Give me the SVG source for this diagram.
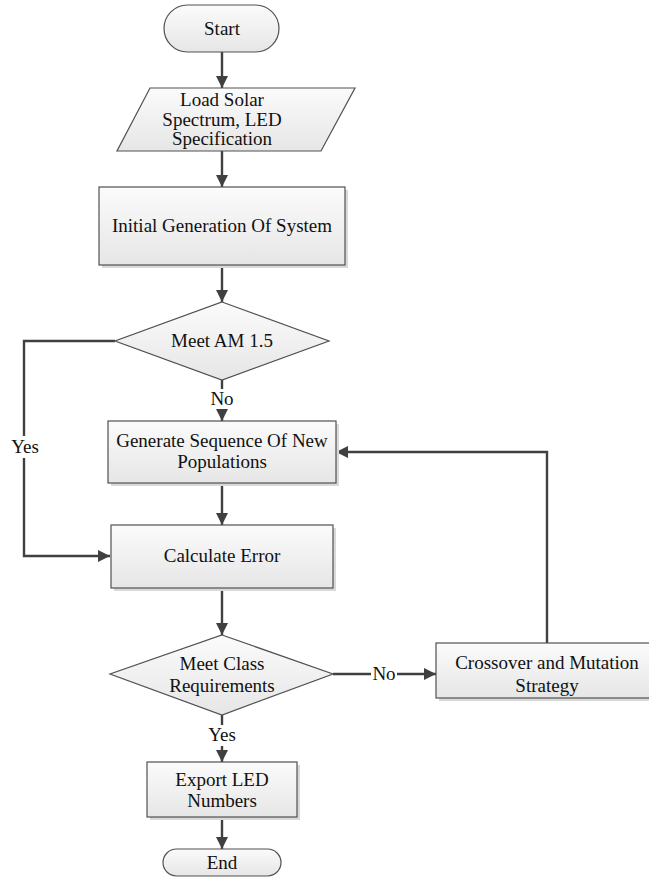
<svg xmlns="http://www.w3.org/2000/svg" width="649" height="886" viewBox="0 0 649 886">
<defs>
<linearGradient id="g" x1="0" y1="0" x2="0" y2="1">
<stop offset="0" stop-color="#fbfbfb"/>
<stop offset="1" stop-color="#e6e6e6"/>
</linearGradient>
<marker id="ah" markerUnits="userSpaceOnUse" markerWidth="13" markerHeight="13" refX="12" refY="6.5" orient="auto">
<path d="M0,0.5 L12,6.5 L0,12.5 z" fill="#404040"/>
</marker>
</defs>
<style>
.s{fill:url(#g);stroke:#505050;stroke-width:1.2}
.sh{fill:#d9d9d9;stroke:none}
.t{font-family:"Liberation Serif","Times New Roman",serif;font-size:19px;fill:#111;text-anchor:middle}
.c{fill:none;stroke:#404040;stroke-width:2.4}
.lb{fill:#fff;stroke:none}
</style>
<rect width="649" height="886" fill="#fff"/>
<g id="connectors">
<line class="c" x1="222" y1="52" x2="222" y2="88" marker-end="url(#ah)"/>
<line class="c" x1="222" y1="151" x2="222" y2="187" marker-end="url(#ah)"/>
<line class="c" x1="222" y1="265" x2="222" y2="302" marker-end="url(#ah)"/>
<line class="c" x1="222" y1="380" x2="222" y2="421" marker-end="url(#ah)"/>
<line class="c" x1="222" y1="483" x2="222" y2="525" marker-end="url(#ah)"/>
<polyline class="c" points="115,341 24,341 24,556 110,556" marker-end="url(#ah)"/>
<line class="c" x1="222" y1="588" x2="222" y2="635" marker-end="url(#ah)"/>
<line class="c" x1="333" y1="674" x2="436" y2="674" marker-end="url(#ah)"/>
<polyline class="c" points="547,643 547,452 336,452" marker-end="url(#ah)"/>
<line class="c" x1="222" y1="715" x2="222" y2="762" marker-end="url(#ah)"/>
<line class="c" x1="222" y1="817" x2="222" y2="849" marker-end="url(#ah)"/>
<rect class="lb" x="209" y="389" width="26" height="20"/>
<text class="t" x="222" y="405">No</text>
<rect class="lb" x="9" y="436" width="32" height="22"/>
<text class="t" x="25" y="453">Yes</text>
<rect class="lb" x="371" y="664" width="26" height="20"/>
<text class="t" x="384" y="680">No</text>
<rect class="lb" x="206" y="725" width="32" height="21"/>
<text class="t" x="222" y="741">Yes</text>
</g>
<g id="start">
<rect class="s" x="164" y="5" width="115" height="47" rx="23.5"/>
<text class="t" x="222" y="35">Start</text>
</g>
<g id="load">
<polygon class="s" points="150,88 355,88 321,151 117,151"/>
<text class="t" x="222" y="106">Load Solar</text>
<text class="t" x="222" y="126">Spectrum, LED</text>
<text class="t" x="222" y="145">Specification</text>
</g>
<g id="init">
<rect class="sh" x="102" y="190" width="246" height="78"/>
<rect class="s" x="99" y="187" width="246" height="78"/>
<text class="t" x="222" y="232">Initial Generation Of System</text>
</g>
<g id="meetam">
<polygon class="s" points="222,302 329,341 222,380 115,341"/>
<text class="t" x="222" y="347">Meet AM 1.5</text>
</g>
<g id="generate">
<rect class="sh" x="111" y="424" width="228" height="62"/>
<rect class="s" x="108" y="421" width="228" height="62"/>
<text class="t" x="222" y="447">Generate Sequence Of New</text>
<text class="t" x="222" y="468">Populations</text>
</g>
<g id="calc">
<rect class="sh" x="114" y="528" width="222" height="63"/>
<rect class="s" x="111" y="525" width="222" height="63"/>
<text class="t" x="222" y="562">Calculate Error</text>
</g>
<g id="meetclass">
<polygon class="s" points="222,635 333,674 222,715 110,674"/>
<text class="t" x="222" y="670">Meet Class</text>
<text class="t" x="222" y="692">Requirements</text>
</g>
<g id="crossover">
<rect class="sh" x="439" y="646" width="222" height="55"/>
<rect class="s" x="436" y="643" width="222" height="55"/>
<text class="t" x="547" y="669">Crossover and Mutation</text>
<text class="t" x="547" y="692">Strategy</text>
</g>
<g id="export">
<rect class="sh" x="150" y="765" width="150" height="55"/>
<rect class="s" x="147" y="762" width="150" height="55"/>
<text class="t" x="222" y="786">Export LED</text>
<text class="t" x="222" y="807">Numbers</text>
</g>
<g id="end">
<rect class="s" x="163" y="849" width="118" height="27" rx="13.5"/>
<text class="t" x="222" y="869">End</text>
</g>
</svg>
